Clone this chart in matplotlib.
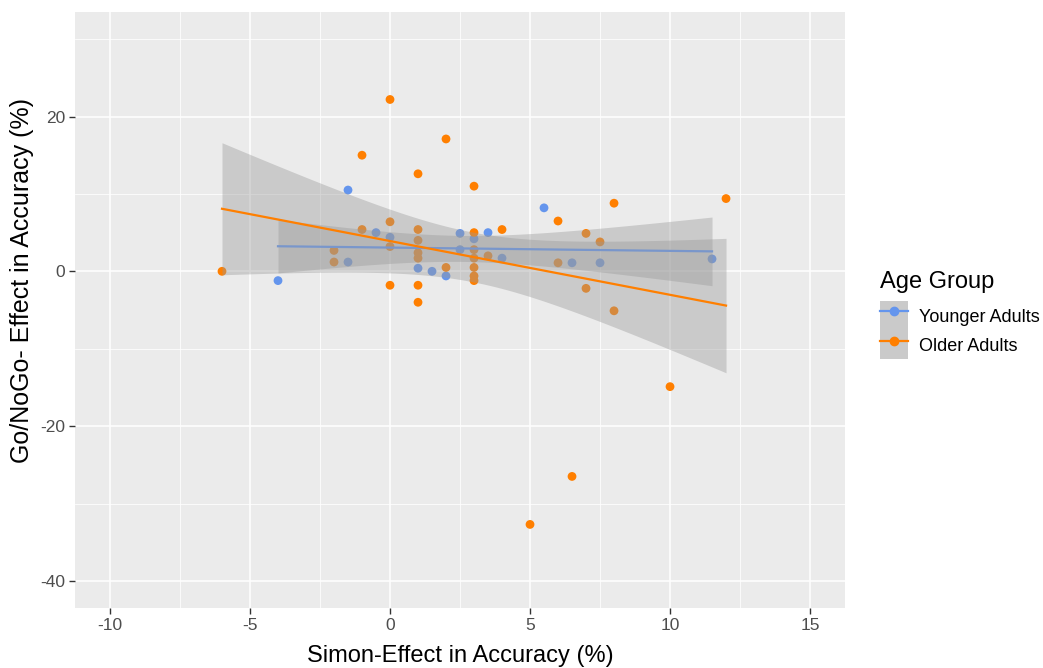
import numpy as np
import matplotlib
matplotlib.use("Agg")
import matplotlib.pyplot as plt
from matplotlib.lines import Line2D
from matplotlib.patches import Patch
from matplotlib.legend_handler import HandlerTuple

plt.rcParams['font.family'] = ['Liberation Sans', 'DejaVu Sans']
plt.rcParams['axes.unicode_minus'] = False

## data (Simon effect vs Go/NoGo effect, both in %)
young_x = [-4, -1.5, -1.5, -0.5, 0, 1, 1.5, 2, 2.5, 2.5, 3, 3.5, 4, 5.5, 6.5, 7.5, 11.5]
young_y = [-1.2, 10.5, 1.2, 5.0, 4.4, 0.4, 0.0, -0.6, 4.9, 2.8, 4.2, 5.0, 1.7, 8.2, 1.1, 1.1, 1.6]

old_x = [-6, -2, -2, -1, -1, 0, 0, 0, 0, 1, 1, 1, 1, 1, 1, 1, 2, 2,
         3, 3, 3, 3, 3, 3, 3, 3.5, 4, 5, 6, 6, 6.5, 7, 7, 7.5, 8, 8, 10, 12]
old_y = [0.0, 2.7, 1.2, 15.0, 5.4, 22.2, 6.4, 3.2, -1.8, 12.6, 5.4, 4.0, 2.4, 1.7, -1.8, -4.0, 17.1, 0.5,
         11.0, 5.0, 2.8, 1.7, 0.5, -0.6, -1.2, 2.0, 5.4, -32.7, 6.5, 1.1, -26.5, 4.9, -2.2, 3.8, 8.8, -5.1, -14.9, 9.4]

groups = ["Younger Adults", "Older Adults"]
colors = ["#6495ED", "#FF7F00"]

x_ticks = [-10, -5, 0, 5, 10, 15]
y_ticks = [-40, -20, 0, 20]

ribbon = "#999999"
panel_bg = "#EBEBEB"


def t_quantile(df, z=1.959964):
    # Cornish-Fisher expansion of the 97.5% t quantile
    return (z + (z**3 + z) / (4 * df) + (5 * z**5 + 16 * z**3 + 3 * z) / (96 * df**2)
            + (3 * z**7 + 19 * z**5 + 17 * z**3 - 15 * z) / (384 * df**3))


def lm_band(x, y, n=80):
    x = np.asarray(x, float)
    y = np.asarray(y, float)
    b, a = np.polyfit(x, y, 1)
    res = y - (a + b * x)
    df = len(x) - 2
    s = np.sqrt(np.sum(res**2) / df)
    xs = np.linspace(x.min(), x.max(), n)
    se = s * np.sqrt(1 / len(x) + (xs - x.mean())**2 / np.sum((x - x.mean())**2))
    fit = a + b * xs
    t = t_quantile(df)
    return xs, fit, fit - t * se, fit + t * se


fig = plt.figure(figsize=(10.43, 6.68), dpi=100)
ax = fig.add_axes([0.0719, 0.0898, 0.7383, 0.8922])
ax.set_facecolor(panel_bg)

data = [(young_x, young_y), (old_x, old_y)]

# points first, smooths on top (as in the ggplot layer order)
for (gx, gy), c in zip(data, colors):
    ax.scatter(gx, gy, s=40, color=c, edgecolors='none', zorder=3)

z = 4
for (gx, gy), c in zip(data, colors):
    xs, fit, lo, hi = lm_band(gx, gy)
    ax.fill_between(xs, lo, hi, color=ribbon, alpha=0.4, linewidth=0, zorder=z)
    ax.plot(xs, fit, color=c, lw=1.6, zorder=z + 1)
    z += 2

ax.set_xlim(-11.25, 16.25)
ax.set_ylim(-43.5, 33.5)
ax.set_xticks(x_ticks)
ax.set_yticks(y_ticks)
ax.set_xticks([-7.5, -2.5, 2.5, 7.5, 12.5], minor=True)
ax.set_yticks([-30, -10, 10, 30], minor=True)
ax.grid(True, which='major', color='white', lw=1.1, zorder=0)
ax.grid(True, which='minor', color='white', lw=0.55, zorder=0)
ax.set_axisbelow(True)
for sp in ax.spines.values():
    sp.set_visible(False)
ax.tick_params(which='major', length=4, width=1, color='#333333', labelcolor='#4D4D4D',
               labelsize=12.5, pad=3)
ax.tick_params(which='minor', length=0)

ax.set_xlabel("Simon-Effect in Accuracy (%)", fontsize=17, va='center')
ax.set_ylabel("Go/NoGo- Effect in Accuracy (%)", fontsize=18, va='center')
ax.xaxis.set_label_coords(0.5, -0.0805)
ax.yaxis.set_label_coords(-0.069, 0.55)

handles = [(Patch(facecolor='#CACACA', edgecolor='none'),
            Line2D([], [], color=c, lw=1.6, marker='o', markersize=6)) for c in colors]
leg = fig.legend(handles, groups, loc='upper left', bbox_to_anchor=(0.8437, 0.5943),
                 frameon=False, title="Age Group", title_fontsize=17, fontsize=13,
                 handler_map={tuple: HandlerTuple(ndivide=1, pad=0)},
                 handlelength=1.55, handleheight=2.1, labelspacing=0.0,
                 handletextpad=0.6, borderaxespad=0, borderpad=0)
leg._legend_box.align = "left"
leg._legend_box.sep = 6

fig.savefig("out.png", dpi=100)
